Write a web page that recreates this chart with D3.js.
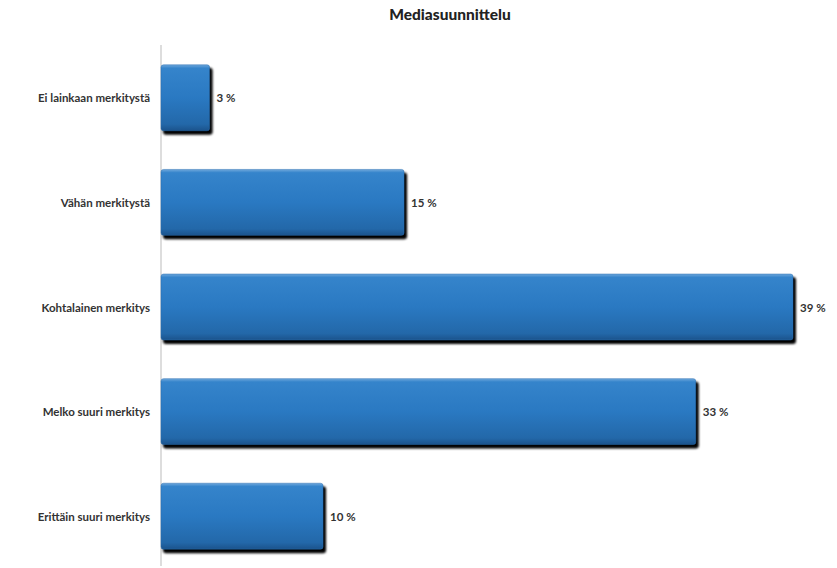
<!DOCTYPE html>
<html><head><meta charset="utf-8">
<script src="https://cdn.jsdelivr.net/npm/d3@7"></script>
<style>body{margin:0;background:#fff}svg{display:block}</style>
</head><body>
<script>
const categories = ["Ei lainkaan merkitystä","Vähän merkitystä","Kohtalainen merkitys","Melko suuri merkitys","Erittäin suuri merkitys"];
const values = [3, 15, 39, 33, 10];
const title = "Mediasuunnittelu";

const W = 837, H = 568;
const svg = d3.select("body").append("svg").attr("width", W).attr("height", H);
const defs = svg.append("defs");
const g1 = defs.append("linearGradient").attr("id","barGrad").attr("x1",0).attr("y1",0).attr("x2",0).attr("y2",1);
[[0,"#6fa8dc"],[0.05,"#3584cb"],[0.5,"#2a79c2"],[0.9,"#2368a9"],[1,"#1b538c"]].forEach(([o,c])=>g1.append("stop").attr("offset",o).attr("stop-color",c));
const f = defs.append("filter").attr("id","blur").attr("x","-10%").attr("y","-10%").attr("width","120%").attr("height","130%");
f.append("feGaussianBlur").attr("stdDeviation",0.8);

const x = d3.scaleLinear().domain([0, 39]).range([161, 793]);
const y = d3.scaleBand().domain(categories).range([46, 569]).paddingInner(0.36).paddingOuter(0.18);

svg.append("text").attr("x", 450).attr("y", 20).attr("text-anchor","middle")
  .attr("font-family","Lato, 'Open Sans', sans-serif").attr("font-weight","900").attr("font-size",15.5).attr("fill","#222").text(title);

svg.append("line").attr("x1",161).attr("x2",161).attr("y1",45).attr("y2",566).attr("stroke","#bbb").attr("stroke-width",1);

const data = categories.map((c,i)=>({c, v: values[i]}));
const gb = svg.append("g");
gb.selectAll(".sh").data(data).join("rect")
  .attr("x", x(0)+2).attr("y", d=>y(d.c)+3).attr("width", d=>x(d.v)-x(0)+1).attr("height", y.bandwidth())
  .attr("rx",3).attr("fill","#050505").attr("filter","url(#blur)");
gb.selectAll(".bar").data(data).join("rect")
  .attr("x", x(0)).attr("y", d=>y(d.c)).attr("width", d=>x(d.v)-x(0)).attr("height", y.bandwidth()-1)
  .attr("rx",2.5).attr("fill","url(#barGrad)").attr("stroke","#2a6eb0").attr("stroke-width",0.5);

svg.append("g").selectAll("text").data(data).join("text")
  .attr("x", d=>x(d.v)+7).attr("y", d=>y(d.c)+y.bandwidth()/2+4)
  .attr("font-family","Lato, 'Open Sans', sans-serif").attr("font-weight","bold").attr("font-size",11.5).attr("fill","#333")
  .text(d=>d.v+" %");

svg.append("g").selectAll("text").data(data).join("text")
  .attr("x", 150).attr("y", d=>y(d.c)+y.bandwidth()/2+4).attr("text-anchor","end")
  .attr("font-family","Lato, 'Open Sans', sans-serif").attr("font-weight","bold").attr("font-size",11.5).attr("fill","#333")
  .text(d=>d.c);
</script>
</body></html>
